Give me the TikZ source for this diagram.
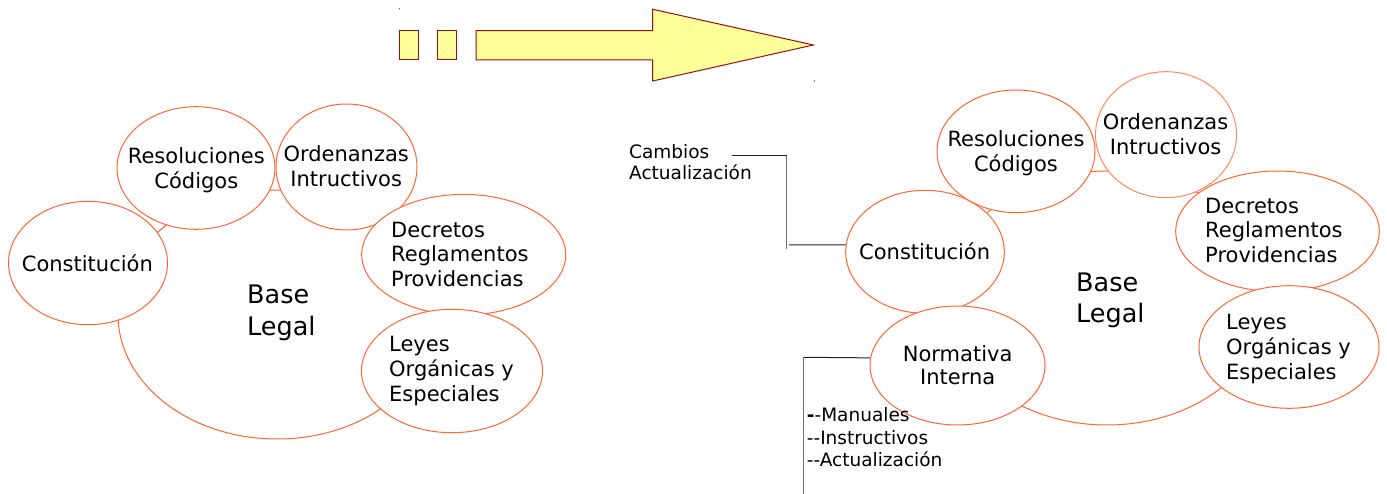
\documentclass[tikz,border=0pt]{standalone}
\usepackage{fontspec}
\setmainfont{DejaVu Sans}
\usetikzlibrary{shapes.geometric}
\definecolor{bubline}{HTML}{FF6633}
\definecolor{bublight}{HTML}{FF8A5C}
\definecolor{arrfill}{HTML}{FFFF99}
\definecolor{arrline}{HTML}{9A1010}
\definecolor{connh}{HTML}{222222}
\definecolor{connv}{HTML}{707070}
\newcommand{\cstk}[2][24.7pt]{\vtop{\baselineskip=#1\lineskiplimit=-50pt\lineskip=0pt\halign{\hfil##\hfil\cr#2\crcr}}}
\newcommand{\lstk}[2][24.7pt]{\vtop{\baselineskip=#1\lineskiplimit=-50pt\lineskip=0pt\halign{##\hfil\cr#2\crcr}}}
\begin{document}
\begin{tikzpicture}[x=1pt, y=-1pt,
  bub/.style={ellipse, draw=bubline, line width=1pt, fill=white, inner sep=0pt},
  lbl/.style={inner sep=0pt, anchor=base west, font=\fontsize{21}{24.7}\selectfont},
  biglbl/.style={inner sep=0pt, anchor=base west, font=\fontsize{25.5}{32}\selectfont},
  sml/.style={inner sep=0pt, anchor=base west, font=\fontsize{18.5}{22}\selectfont},
  arrowshape/.style={draw=arrline, fill=arrfill, line width=1pt},
  hconn/.style={draw=connh, line width=1pt},
  vconn/.style={draw=connv, line width=1.3pt}]
\useasboundingbox (0,0) rectangle (1387,494);
\fill[white] (0,0) rectangle (1387,494);

% ---- top arrow ----
\draw[arrowshape] (399,30.7) rectangle (418.3,60);
\draw[arrowshape] (437.3,30.7) rectangle (456.7,60);
\draw[arrowshape] (476,30.7) -- (652.7,30.7) -- (652.7,9.3) -- (813.3,45) -- (652.7,81) -- (652.7,60) -- (476,60) -- cycle;
\fill[arrline] (399.5,8.8) circle (0.7);
\fill[arrline] (814.3,81) circle (0.7);

% ---- left cluster ----
\node[bub, minimum width=318pt, minimum height=249pt] (lbase) at (277,314.5) {};
\node[bub, minimum width=159pt, minimum height=123.4pt] (lconst) at (88,263) {};
\node[bub, minimum width=158pt, minimum height=122.6pt] (lreso) at (196,168) {};
\node[bub, minimum width=141pt, minimum height=126pt] (lorde) at (346.5,167) {};
\node[bub, minimum width=204pt, minimum height=120.6pt] (ldecr) at (463.7,254.7) {};
\node[bub, minimum width=181pt, minimum height=123.4pt] (lleye) at (452,371) {};

\node[lbl] (tlconst) at (21.7,271.7) {Constitución};
\node[lbl] (tlreso) at (127.7,164) {\cstk{Resoluciones\cr Códigos}};
\node[lbl] (tlorde) at (283.3,161.7) {\cstk{Ordenanzas\cr Intructivos}};
\node[lbl] (tldecr) at (391,237.3) {\lstk{Decretos\cr Reglamentos\cr Providencias}};
\node[lbl] (tlleye) at (389,351.7) {\lstk{Leyes\cr Orgánicas y\cr Especiales}};
\node[biglbl] (tlbase) at (247,304) {\lstk[32pt]{Base\cr Legal}};

% ---- right cluster ----
\node[bub, minimum width=323pt, minimum height=254pt] (rbase) at (1107,298) {};
\node[bub, minimum width=158.6pt, minimum height=123pt] (rconst) at (925,251.8) {};
\node[bub, minimum width=158pt, minimum height=122.6pt] (rreso) at (1016,151.3) {};
\node[bub, draw=bublight, minimum width=141pt, minimum height=126pt] (rorde) at (1166,134.7) {};
\node[bub, minimum width=203.6pt, minimum height=120.6pt] (rdecr) at (1277.5,231.3) {};
\node[bub, minimum width=180pt, minimum height=122.6pt] (rleye) at (1289,347) {};
\node[bub, minimum width=175pt, minimum height=119pt] (rnorm) at (957.5,365.5) {};

\node[lbl] (trconst) at (859,260) {Constitución};
\node[lbl] (trreso) at (947.3,146.7) {\cstk{Resoluciones\cr Códigos}};
\node[lbl] (trorde) at (1102.7,130) {\cstk{Ordenanzas\cr Intructivos}};
\node[lbl] (trdecr) at (1205,213.3) {\lstk{Decretos\cr Reglamentos\cr Providencias}};
\node[lbl] (trleye) at (1226,330) {\lstk{Leyes\cr Orgánicas y\cr Especiales}};
\node[lbl] (trnorm) at (902.7,361) {\cstk[24pt]{Normativa\cr Interna}};
\node[biglbl] (trbase) at (1076,291.7) {\lstk[31pt]{Base\cr Legal}};

% ---- annotations ----
\node[sml] (cambios) at (629,158.3) {\lstk[21.7pt]{Cambios\cr Actualización}};
\coordinate (cb0) at (732.3,156);
\coordinate (cb1) at (786.7,156);
\coordinate (cb2) at (786.7,249.3);
\coordinate (cb3) at (789,245);
\draw[hconn] (cb0) -- (cb1);
\draw[vconn] (cb1) -- (cb2);
\draw[hconn] (cb3) -- (rconst.175);

\node[sml] (manuales) at (806.7,421.3) {\lstk[22.7pt]{{\bfseries -}-Manuales\cr -{}-Instructivos\cr -{}-Actualización}};
\coordinate (nm0) at (803.3,357.3);
\coordinate (nm1) at (803.3,494);
\draw[hconn] (rnorm.175) -- (nm0);
\draw[vconn] (nm0) -- (nm1);
\end{tikzpicture}
\end{document}
